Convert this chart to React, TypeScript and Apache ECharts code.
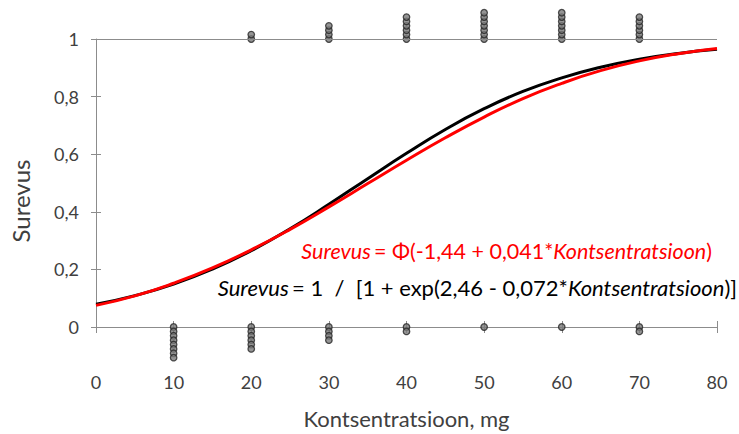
import React, { useEffect, useRef } from "react";
import * as echarts from "echarts";

// Concentrations tested and outcome counts (stacked dots)
const concentrations = [10, 20, 30, 40, 50, 60, 70];
const survivedCounts = [0, 2, 4, 6, 7, 7, 6];
const diedCounts = [8, 6, 4, 2, 1, 1, 2];

// Fitted curves
const curveX = [0, 5, 10, 15, 20, 25, 30, 35, 40, 45, 50, 55, 60, 65, 70, 75, 80];
const logitCurve = [0.079, 0.109, 0.149, 0.201, 0.265, 0.341, 0.426, 0.515, 0.603, 0.686, 0.758, 0.818, 0.865, 0.902, 0.93, 0.95, 0.964];
const probitCurve = [0.075, 0.108, 0.152, 0.205, 0.268, 0.339, 0.417, 0.498, 0.579, 0.657, 0.729, 0.793, 0.846, 0.89, 0.924, 0.949, 0.967];

const xTicks = [0, 10, 20, 30, 40, 50, 60, 70, 80];
const yTickLabels = ["0", "0,2", "0,4", "0,6", "0,8", "1"];

const FONT = "Lato";
const AXIS_COLOR = "#8c8c8c";
const TEXT_COLOR = "#404040";
const STACK_STEP = 0.0152;

export default function App() {
  const ref = useRef<HTMLDivElement>(null);
  useEffect(() => {
    if (!ref.current) return;
    const chart = echarts.init(ref.current, undefined, { renderer: "svg" });

    const dots: number[][] = [];
    concentrations.forEach((c, i) => {
      for (let k = 0; k < survivedCounts[i]; k++) dots.push([c, 1 + k * STACK_STEP]);
      for (let k = 0; k < diedCounts[i]; k++) dots.push([c, 0 - k * STACK_STEP]);
    });

    const fmtY = (v: number) => {
      const idx = Math.round(v / 0.2);
      return yTickLabels[idx] ?? "";
    };

    chart.setOption({
      animation: false,
      backgroundColor: "#ffffff",
      grid: { left: 96, right: 22, top: 39, bottom: 104, containLabel: false },
      xAxis: [
        {
          type: "value",
          min: 0,
          max: 80,
          interval: 10,
          position: "bottom",
          axisLine: { show: true, lineStyle: { color: AXIS_COLOR, width: 1 } },
          axisTick: { show: true, length: 6, lineStyle: { color: AXIS_COLOR } },
          axisLabel: {
            margin: 46,
            color: TEXT_COLOR,
            fontFamily: FONT,
            fontSize: 18,
            formatter: (v: number) => (xTicks.includes(v) ? String(v) : ""),
          },
          splitLine: { show: false },
          name: "Kontsentratsioon, mg",
          nameLocation: "middle",
          nameGap: 80,
          nameTextStyle: { color: TEXT_COLOR, fontFamily: FONT, fontSize: 22 },
        },
        {
          type: "value",
          min: 0,
          max: 80,
          interval: 10,
          position: "bottom",
          axisLine: { show: false },
          axisTick: { show: true, inside: true, length: 6, lineStyle: { color: AXIS_COLOR } },
          axisLabel: { show: false },
          splitLine: { show: false },
        },
      ],
      yAxis: [
        {
          type: "value",
          min: 0,
          max: 1,
          interval: 0.2,
          position: "left",
          axisLine: { show: true, lineStyle: { color: AXIS_COLOR, width: 1 } },
          axisTick: { show: true, length: 5, lineStyle: { color: AXIS_COLOR } },
          axisLabel: {
            margin: 17,
            color: TEXT_COLOR,
            fontFamily: FONT,
            fontSize: 18,
            formatter: fmtY,
          },
          splitLine: { show: false },
        },
        {
          type: "value",
          min: 0,
          max: 1,
          interval: 0.2,
          position: "left",
          axisLine: { show: false },
          axisTick: { show: true, inside: true, length: 5, lineStyle: { color: AXIS_COLOR } },
          axisLabel: { show: false },
          splitLine: { show: false },
        },
      ],
      graphic: [
        {
          type: "text",
          x: 20,
          y: 201,
          rotation: Math.PI / 2,
          style: {
            text: "Surevus",
            fill: TEXT_COLOR,
            font: `24px ${FONT}`,
            align: "center",
            verticalAlign: "middle",
          },
        },
        {
          type: "text",
          right: 27,
          top: 240,
          style: {
            text: "{i|Surevus} {n|= Φ(-1,44 + 0,041*}{i|Kontsentratsioon}{n|)}",
            rich: {
              i: { fill: "#ff0000", fontFamily: FONT, fontSize: 21.5, fontStyle: "italic" },
              n: { fill: "#ff0000", fontFamily: FONT, fontSize: 21.5 },
            },
          },
        },
        {
          type: "text",
          right: 2,
          top: 276,
          style: {
            text: "{i|Surevus} {n|= 1  /  [1 + exp(2,46 - 0,072*}{i|Kontsentratsioon}{n|)]}",
            rich: {
              i: { fill: "#000000", fontFamily: FONT, fontSize: 22, fontStyle: "italic" },
              n: { fill: "#000000", fontFamily: FONT, fontSize: 22 },
            },
          },
        },
      ],
      series: [
        {
          type: "line",
          name: "logit",
          data: curveX.map((x, i) => [x, logitCurve[i]]),
          smooth: true,
          showSymbol: false,
          lineStyle: { color: "#000000", width: 3 },
          z: 2,
        },
        {
          type: "line",
          name: "probit",
          data: curveX.map((x, i) => [x, probitCurve[i]]),
          smooth: true,
          showSymbol: false,
          lineStyle: { color: "#ff0000", width: 3 },
          z: 3,
          markLine: {
            silent: true,
            symbol: "none",
            label: { show: false },
            lineStyle: { color: AXIS_COLOR, type: "solid", width: 1 },
            data: [{ yAxis: 1 }],
          },
        },
        {
          type: "scatter",
          name: "obs",
          data: dots,
          clip: false,
          symbol: "circle",
          symbolSize: 6.5,
          itemStyle: { color: "#7a7a7a", borderColor: "#262626", borderWidth: 1.3 },
          z: 4,
        },
      ],
    });
    return () => chart.dispose();
  }, []);
  return (
    <div
      ref={ref}
      style={{ position: "fixed", left: 0, top: 0, width: 739, height: 434 }}
    />
  );
}
